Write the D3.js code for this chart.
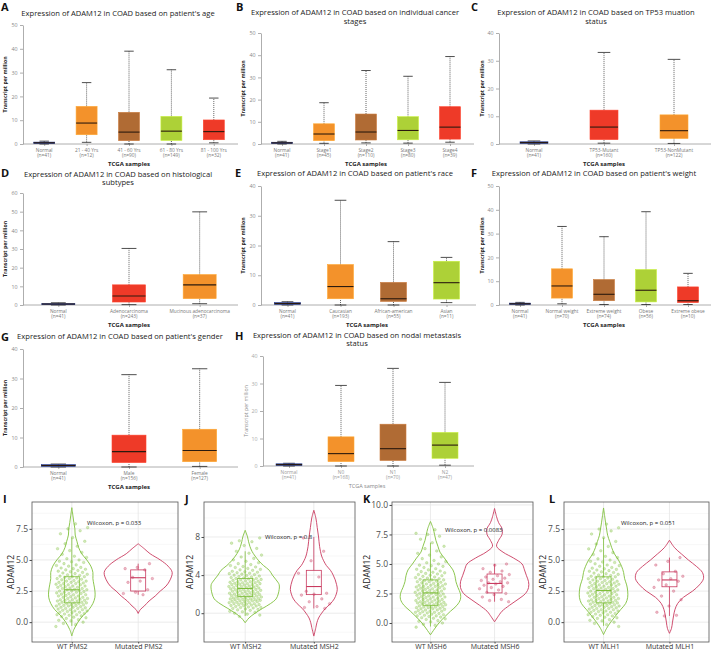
<!DOCTYPE html>
<html><head><meta charset="utf-8">
<script src="https://cdn.jsdelivr.net/npm/d3@7"></script>
<style>body{margin:0;background:#fff}svg{display:block}text{font-family:"Open Sans","DejaVu Sans",sans-serif}</style>
</head><body><script>
// ---------------- DATA ----------------
// box stats: [min, q1, median, q3, max]
const ageCats = ["Normal","21 - 40 Yrs","41 - 60 Yrs","61 - 80 Yrs","81 - 100 Yrs"];
const ageN = [41,12,90,149,32];
const ageStats = [[0,0.2,0.5,0.8,1.2],[0.7,3.9,8.8,15.8,25.8],[0,1.4,5.0,13.3,39.0],[0,1.5,5.4,11.6,31.2],[0.5,1.8,5.2,10.1,19.3]];
const stageCats = ["Normal","Stage1","Stage2","Stage3","Stage4"];
const stageN = [41,45,110,80,39];
const stageStats = [[0,0.2,0.5,0.8,1.2],[0.3,1.5,4.5,9.1,18.6],[0.5,1.8,5.4,13.5,33.1],[0.4,1.9,6.1,12.3,30.5],[0.8,2.2,7.6,16.8,39.4]];
const tp53Cats = ["Normal","TP53-Mutant","TP53-NonMutant"];
const tp53N = [41,160,122];
const tp53Stats = [[0,0.2,0.5,0.8,1.1],[0.3,1.6,6.1,12.2,33.0],[0.2,2.0,4.8,10.5,30.5]];
const histCats = ["Normal","Adenocarcinoma","Mucinous adenocarcinoma"];
const histN = [41,243,37];
const histStats = [[0,0.2,0.5,0.8,1.2],[0.2,1.6,4.8,10.8,30.3],[0.7,3.4,10.8,16.3,49.9]];
const raceCats = ["Normal","Caucasian","African-american","Asian"];
const raceN = [41,193,55,11];
const raceStats = [[0,0.2,0.5,0.8,1.1],[0,2.1,6.2,13.6,35.2],[0,1.2,2.1,7.6,21.3],[0.8,2.0,7.5,14.7,16.0]];
const weightCats = ["Normal","Normal weight","Extreme weight","Obese","Extreme obese"];
const weightN = [41,70,74,56,10];
const weightStats = [[0,0.2,0.5,0.8,1.1],[0.5,2.9,8.0,15.2,33.0],[0.2,1.8,4.5,10.7,28.7],[0.2,1.3,6.2,14.9,39.2],[0.2,1.0,1.8,7.6,13.3]];
const genderCats = ["Normal","Male","Female"];
const genderN = [41,156,127];
const genderStats = [[0,0.2,0.5,0.8,1.0],[0,1.5,5.2,10.8,31.3],[0.2,1.8,5.6,12.8,33.3]];
const nodalCats = ["Normal","N0","N1","N2"];
const nodalN = [41,168,70,47];
const nodalStats = [[0,0.2,0.5,0.8,1.0],[0,1.6,4.5,10.6,29.3],[0,2.0,6.3,15.2,35.5],[0.3,2.8,7.6,12.2,30.4]];

// violin panels
const wtValues = [-0.35,-0.2,-0.1,0.0,0.1,0.15,0.2,0.3,0.35,0.4,0.45,0.5,0.55,0.6,0.6,0.65,0.7,0.75,0.8,0.8,0.85,0.9,0.9,0.95,
1.0,1.0,1.05,1.1,1.1,1.15,1.2,1.2,1.25,1.3,1.3,1.35,1.35,1.4,1.4,1.45,1.5,1.5,1.55,1.55,
1.6,1.6,1.65,1.7,1.7,1.75,1.75,1.8,1.8,1.85,1.9,1.9,1.95,2.0,2.0,2.05,2.1,2.1,2.15,2.2,2.2,2.25,2.3,2.3,2.35,2.4,2.4,2.45,2.5,2.5,2.55,2.6,2.6,
2.65,2.7,2.7,2.75,2.8,2.8,2.85,2.9,2.9,2.95,3.0,3.0,3.05,3.1,3.1,3.15,3.2,3.2,3.25,3.3,3.3,3.35,3.4,3.45,3.5,3.5,3.55,3.6,3.65,3.65,
3.7,3.75,3.8,3.85,3.9,3.95,4.0,4.05,4.1,4.15,4.2,4.25,4.3,4.35,4.4,4.5,4.55,4.6,4.7,4.8,4.85,4.9,5.0,5.1,5.2,5.3,5.45,5.6,5.75,5.9,6.1,6.3,6.5,6.8,7.1,7.35,7.5,7.6,7.9];
const mutPMS2 = [4.7,4.4,4.3,4.2,3.6,3.5,3.3,3.2,2.6,2.4,2.3,2.2];
const mutMSH2 = [7.9,6.5,5.5,4.2,3.8,2.3,2.1,2.0,1.9,1.5,1.2,1.0,0.7,0.6,0.5];
const mutMSH6 = [5.0,4.9,4.6,4.4,4.3,4.1,4.0,3.9,3.8,3.7,3.6,3.5,3.4,3.4,3.3,3.2,3.1,3.0,2.9,2.8,2.6,2.5,2.4,2.2,2.0,1.9,1.8];
const mutMLH1 = [5.2,4.9,4.6,4.1,3.9,3.7,3.5,3.4,3.3,3.0,2.8,2.5,2.1,1.8,1.3,0.8,0.55,0.5];
// violin densities [value, relative density]
const densPMS2wt = [[-1.1,0],[-0.6,.06],[0,.18],[0.5,.32],[1,.5],[1.5,.62],[2,.68],[2.5,.68],[3,.65],[3.5,.62],[4,.62],[4.5,.56],[5,.44],[5.5,.29],[6,.2],[6.5,.15],[7,.1],[7.5,.09],[8,.06],[8.6,.03],[9.2,0]];
const densPMS2mut = [[0.7,0],[1.0,.06],[1.3,.18],[1.7,.32],[2.1,.5],[2.5,.65],[2.9,.82],[3.4,.94],[4.0,1],[4.5,.88],[5.0,.65],[5.5,.35],[5.9,.18],[6.3,0]];
const densMSH2wt = [[-1.0,0],[-0.5,.11],[0,.29],[0.5,.51],[1,.74],[1.5,.91],[2,.97],[2.5,1],[3,1],[3.5,.91],[4,.8],[4.5,.71],[5,.54],[5.5,.4],[6,.29],[6.5,.2],[7,.14],[7.5,.1],[8,.07],[8.7,0]];
const densMSH2mut = [[-2.4,0],[-1.5,.06],[-1,.09],[-0.5,.14],[0,.23],[0.5,.34],[1,.49],[1.5,.6],[2,.66],[2.5,.69],[3,.67],[3.5,.63],[4,.57],[4.5,.49],[5,.37],[5.5,.29],[6,.23],[7,.17],[8,.14],[9,.1],[10,.06],[10.8,0]];
const densMSH6wt = [[-1.0,0],[-0.5,.12],[0,.25],[0.5,.41],[1,.59],[1.5,.78],[2,.88],[2.5,.88],[3,.81],[3.5,.75],[4,.72],[4.5,.66],[5,.53],[5.5,.41],[6,.28],[6.5,.22],[7,.16],[7.5,.12],[8,.08],[8.6,0]];
const densMSH6mut = [[0.1,0],[0.7,.14],[1,.22],[1.5,.44],[2,.69],[2.5,.91],[3,1],[3.5,1],[4,.94],[4.5,.88],[5,.81],[5.5,.56],[6,.25],[6.5,.06],[7,.12],[7.5,.22],[8,.22],[8.5,.12],[9,.06],[9.7,0]];
const densMLH1wt = [[-1.0,0],[-0.5,.09],[0,.21],[0.5,.35],[1,.5],[1.5,.65],[2,.71],[2.5,.71],[3,.68],[3.5,.62],[4,.59],[4.5,.53],[5,.44],[5.5,.32],[6,.24],[6.5,.18],[7,.12],[7.5,.09],[8,.06],[8.6,.03],[9.2,0]];
const densMLH1mut = [[-0.9,0],[-0.5,.06],[0,.09],[0.5,.12],[1,.16],[1.5,.24],[2,.41],[2.5,.68],[3,.88],[3.5,1],[4,.97],[4.5,.79],[5,.56],[5.5,.35],[6,.15],[6.6,0]];
// violin box stats [lo, q1, med, q3, hi]
const boxPMS2 = [[-0.3,1.55,2.6,3.65,6.8],[2.2,2.5,3.57,4.2,4.7]];
const boxMSH2 = [[-0.3,1.75,2.6,3.65,6.5],[0.5,1.95,2.8,4.5,8.0]];
const boxMSH6 = [[-0.3,1.5,2.55,3.65,6.8],[1.8,2.55,3.35,4.15,5.0]];
const boxMLH1 = [[-0.3,1.55,2.55,3.65,6.8],[0.5,2.85,3.4,4.05,5.2]];
const pvals = ["0.033","0.8","0.0083","0.051"];
const genes = ["PMS2","MSH2","MSH6","MLH1"];

// ---------------- STYLE ----------------
const C = {N:'#22347c', O:'#f3922b', B:'#b06b34', G:'#add137', R:'#ee3a28'};
const W = 711, H = 651;
const svg = d3.select('body').append('svg').attr('width',W).attr('height',H);

function boxPanel(p){
  const g = svg.append('g');
  const light = !!p.light;
  const y = d3.scaleLinear().domain([0,p.yMax]).range([p.yBot,p.yTop]);
  const x = d3.scalePoint().domain(p.cats).range([p.x0,p.x1]).padding(0.5);
  svg.append('text').attr('x',p.lx).attr('y',p.ly).text(p.letter)
     .attr('font-family','"Liberation Sans",Arial,sans-serif').attr('font-weight','bold').attr('font-size',11).attr('fill','#111');
  p.title.forEach((t,i)=>g.append('text').attr('x',p.tx).attr('y',p.ty+i*8.5).attr('text-anchor','middle')
     .attr('font-size',7.6).attr('fill','#222').text(t));
  const ax = g.append('g').attr('transform',`translate(${p.x0},0)`)
     .call(d3.axisLeft(y).tickValues(p.ticks).tickSize(3).tickPadding(2.5).tickSizeOuter(0));
  ax.select('.domain').attr('stroke','#999').attr('stroke-width',0.8);
  ax.selectAll('.tick line').attr('stroke','#999').attr('stroke-width',0.8);
  ax.selectAll('.tick text').attr('font-size',5.3).attr('fill',light?'#aaa':'#888').attr('font-family','"Open Sans",sans-serif');
  const xa = g.append('g').attr('transform',`translate(0,${p.yBot})`)
     .call(d3.axisBottom(x).tickSize(2).tickFormat(''));
  xa.select('.domain').attr('stroke','#999').attr('stroke-width',0.8).attr('d',`M${p.x0},0H${p.x1+3}`);
  xa.selectAll('.tick line').attr('stroke','#999').attr('stroke-width',0.8);
  g.append('text').attr('transform',`translate(${p.ylx},${(p.yTop+p.yBot)/2}) rotate(-90)`).attr('text-anchor','middle')
     .attr('font-size',5.2).attr('font-weight',light?'normal':'bold').attr('fill',light?'#888':'#222').text('Transcript per million');
  p.cats.forEach((c,i)=>{
    g.append('text').attr('x',x(c)).attr('y',p.yBot+7.5).attr('text-anchor','middle').attr('font-size',4.8).attr('fill',light?'#999':'#777').text(c);
    g.append('text').attr('x',x(c)).attr('y',p.yBot+12.5).attr('text-anchor','middle').attr('font-size',4.8).attr('fill',light?'#999':'#777').text(`(n=${p.ns[i]})`);
  });
  g.append('text').attr('x',(p.x0+p.x1)/2).attr('y',p.yBot+22).attr('text-anchor','middle')
     .attr('font-size',light?5.5:6).attr('font-weight',light?'normal':'bold').attr('fill',light?'#888':'#222').text('TCGA samples');
  p.cats.forEach((c,i)=>{
    const s = p.stats[i], cx = x(c), bw = p.bw, cw = bw*0.45;
    g.append('line').attr('x1',cx).attr('x2',cx).attr('y1',y(s[3])).attr('y2',y(s[4])).attr('stroke','#222').attr('stroke-width',0.7).attr('stroke-dasharray','1,1');
    g.append('line').attr('x1',cx).attr('x2',cx).attr('y1',y(s[0])).attr('y2',y(s[1])).attr('stroke','#222').attr('stroke-width',0.7).attr('stroke-dasharray','1,1');
    g.append('line').attr('x1',cx-cw/2).attr('x2',cx+cw/2).attr('y1',y(s[4])).attr('y2',y(s[4])).attr('stroke','#222').attr('stroke-width',0.8);
    g.append('line').attr('x1',cx-cw/2).attr('x2',cx+cw/2).attr('y1',y(s[0])).attr('y2',y(s[0])).attr('stroke','#222').attr('stroke-width',0.8);
    const col = p.colors[i];
    g.append('rect').attr('x',cx-bw/2).attr('width',bw).attr('y',y(s[3])).attr('height',Math.max(1.2,y(s[1])-y(s[3])))
      .attr('fill',col).attr('stroke',d3.color(col).brighter(0.4)).attr('stroke-width',0.6);
    g.append('line').attr('x1',cx-bw/2).attr('x2',cx+bw/2).attr('y1',y(s[2])).attr('y2',y(s[2])).attr('stroke','#2b1a0e').attr('stroke-width',1.1);
  });
}

const boxPanels = [
 {letter:'A',lx:1,ly:11,title:["Expression of ADAM12 in COAD based on patient's age"],tx:118,ty:15.5,cats:ageCats,ns:ageN,stats:ageStats,colors:[C.N,C.O,C.B,C.G,C.R],x0:23,x1:235,yTop:25,yBot:144,yMax:50,ticks:[0,10,20,30,40,50],bw:21,ylx:7},
 {letter:'B',lx:236,ly:11,title:["Expression of ADAM12 in COAD based on individual cancer","stages"],tx:355,ty:15,cats:stageCats,ns:stageN,stats:stageStats,colors:[C.N,C.O,C.B,C.G,C.R],x0:261,x1:471,yTop:33,yBot:144,yMax:50,ticks:[0,10,20,30,40,50],bw:21,ylx:245},
 {letter:'C',lx:471,ly:11,title:["Expression of ADAM12 in COAD based on TP53 muation","status"],tx:596,ty:15,cats:tp53Cats,ns:tp53N,stats:tp53Stats,colors:[C.N,C.R,C.O],x0:499,x1:709,yTop:33,yBot:144,yMax:40,ticks:[0,10,20,30,40],bw:28,ylx:484},
 {letter:'D',lx:1,ly:177,title:["Expression of ADAM12 in COAD based on histological","subtypes"],tx:118,ty:176.5,cats:histCats,ns:histN,stats:histStats,colors:[C.N,C.R,C.O],x0:23,x1:235,yTop:193,yBot:305,yMax:60,ticks:[0,10,20,30,40,50,60],bw:33,ylx:7},
 {letter:'E',lx:235,ly:177,title:["Expression of ADAM12 in COAD based on patient's race"],tx:355,ty:176,cats:raceCats,ns:raceN,stats:raceStats,colors:[C.N,C.O,C.B,C.G],x0:261,x1:473,yTop:186,yBot:305,yMax:40,ticks:[0,10,20,30,40],bw:26,ylx:245},
 {letter:'F',lx:471,ly:177,title:["Expression of ADAM12 in COAD based on patient's weight"],tx:594,ty:176,cats:weightCats,ns:weightN,stats:weightStats,colors:[C.N,C.O,C.B,C.G,C.R],x0:499,x1:709,yTop:186,yBot:305,yMax:50,ticks:[0,10,20,30,40,50],bw:21,ylx:484},
 {letter:'G',lx:1,ly:341,title:["Expression of ADAM12 in COAD based on patient's gender"],tx:120,ty:338.5,cats:genderCats,ns:genderN,stats:genderStats,colors:[C.N,C.R,C.O],x0:23,x1:235,yTop:349,yBot:467,yMax:40,ticks:[0,10,20,30,40],bw:34,ylx:7},
 {letter:'H',lx:235,ly:340,title:["Expression of ADAM12 in COAD based on nodal metastasis","status"],tx:357,ty:337.5,cats:nodalCats,ns:nodalN,stats:nodalStats,colors:[C.N,C.O,C.B,C.G],x0:263,x1:471,yTop:356,yBot:466,yMax:40,ticks:[0,10,20,30,40],bw:26,ylx:248,light:true}
];
boxPanels.forEach(boxPanel);

// ---------------- VIOLINS ----------------
const WT_COL = '#7fbf3b', MUT_COL = '#c93a5f';
function violinPanel(p){
  const g = svg.append('g');
  const y = d3.scaleLinear().domain([p.lo,p.hi]).range([p.y1,p.y0]);
  const cats = ['WT '+p.gene,'Mutated '+p.gene];
  const x = d3.scalePoint().domain(cats).range([p.x0,p.x1]).padding(0.6);
  const step = x.step();
  p.minor.forEach(v=>g.append('line').attr('x1',p.x0).attr('x2',p.x1).attr('y1',y(v)).attr('y2',y(v)).attr('stroke','#f3f3f3').attr('stroke-width',0.6));
  p.major.forEach(v=>g.append('line').attr('x1',p.x0).attr('x2',p.x1).attr('y1',y(v)).attr('y2',y(v)).attr('stroke','#e6e6e6').attr('stroke-width',0.8));
  cats.forEach(c=>g.append('line').attr('x1',x(c)).attr('x2',x(c)).attr('y1',p.y0).attr('y2',p.y1).attr('stroke','#e6e6e6').attr('stroke-width',0.8));
  const ya = g.append('g').attr('transform',`translate(${p.x0},0)`).call(d3.axisLeft(y).tickValues(p.major).tickSize(2.5).tickPadding(1.5).tickFormat(p.fmt));
  ya.select('.domain').remove();
  ya.selectAll('.tick line').attr('stroke','#444');
  ya.selectAll('.tick text').attr('font-size',8.5).attr('fill','#4d4d4d').attr('font-family','"Open Sans",sans-serif');
  const xa = g.append('g').attr('transform',`translate(0,${p.y1})`).call(d3.axisBottom(x).tickSize(1.5));
  xa.select('.domain').remove();
  xa.selectAll('.tick line').attr('stroke','#444');
  xa.selectAll('.tick text').attr('font-size',7).attr('fill','#333').attr('font-family','"Open Sans",sans-serif').attr('y',7).attr('dy',0);
  g.append('text').attr('transform',`translate(${p.ylx},${(p.y0+p.y1)/2}) rotate(-90)`).attr('text-anchor','middle')
    .attr('font-size',8.5).attr('fill','#222').text('ADAM12');
  svg.append('text').attr('x',p.lx).attr('y',503).text(p.letter)
     .attr('font-family','"Liberation Sans",Arial,sans-serif').attr('font-weight','bold').attr('font-size',11).attr('fill','#111');
  const k = 34;
  const groups = [{c:cats[0],dens:p.wtDens,pts:wtValues,box:p.box[0],col:WT_COL,seed:p.seed},{c:cats[1],dens:p.mutDens,pts:p.mutPts,box:p.box[1],col:MUT_COL,seed:p.seed+3}];
  groups.forEach(gr=>{
    const cx = x(gr.c);
    const area = d3.area().y(d=>y(d[0])).x0(d=>cx-d[1]*k).x1(d=>cx+d[1]*k).curve(d3.curveCatmullRom.alpha(0.5));
    g.append('path').attr('d',area(gr.dens)).attr('fill','none').attr('stroke',gr.col).attr('stroke-width',0.9);
    const b = gr.box, bw = 15;
    g.append('line').attr('x1',cx).attr('x2',cx).attr('y1',y(b[0])).attr('y2',y(b[1])).attr('stroke',gr.col).attr('stroke-width',0.8);
    g.append('line').attr('x1',cx).attr('x2',cx).attr('y1',y(b[3])).attr('y2',y(b[4])).attr('stroke',gr.col).attr('stroke-width',0.8);
    g.append('rect').attr('x',cx-bw/2).attr('width',bw).attr('y',y(b[3])).attr('height',y(b[1])-y(b[3])).attr('fill','none').attr('stroke',gr.col).attr('stroke-width',0.8);
    g.append('line').attr('x1',cx-bw/2).attr('x2',cx+bw/2).attr('y1',y(b[2])).attr('y2',y(b[2])).attr('stroke',gr.col).attr('stroke-width',1.1);
    const jw = step*0.24;
    gr.pts.forEach((v,i)=>{
      const f = ((i+gr.seed)*0.6180339887)%1;
      g.append('circle').attr('cx',cx+(f-0.5)*2*jw).attr('cy',y(v)).attr('r',1.3)
        .attr('fill',gr.col).attr('fill-opacity',0.35).attr('stroke',gr.col).attr('stroke-opacity',0.6).attr('stroke-width',0.4);
    });
  });
  g.append('text').attr('x',p.px).attr('y',p.py).attr('font-size',6).attr('fill','#222').text('Wilcoxon, p = '+p.pval);
  g.append('rect').attr('x',p.x0).attr('y',p.y0).attr('width',p.x1-p.x0).attr('height',p.y1-p.y0).attr('fill','none').attr('stroke','#555').attr('stroke-width',0.8);
}
const f1 = d3.format('.1f'), f0 = d3.format('d');
const violinPanels = [
 {letter:'I',lx:3,gene:genes[0],x0:32,x1:178,y0:502,y1:642,lo:-1.596,hi:9.657,major:[0,2.5,5,7.5],minor:[-1.25,1.25,3.75,6.25,8.75],fmt:f1,ylx:14,wtDens:densPMS2wt,mutDens:densPMS2mut,mutPts:mutPMS2,box:boxPMS2,pval:pvals[0],px:87,py:525,seed:0},
 {letter:'J',lx:185,gene:genes[1],x0:204,x1:355,y0:502,y1:642,lo:-3.02,hi:11.67,major:[0,4,8],minor:[-2,2,6,10],fmt:f0,ylx:193,wtDens:densMSH2wt,mutDens:densMSH2mut,mutPts:mutMSH2,box:boxMSH2,pval:pvals[1],px:265,py:539,seed:7},
 {letter:'K',lx:363,gene:genes[2],x0:392,x1:533,y0:502,y1:642,lo:-1.61,hi:10.25,major:[0,2.5,5,7.5,10],minor:[-1.25,1.25,3.75,6.25,8.75],fmt:f1,ylx:370,wtDens:densMSH6wt,mutDens:densMSH6mut,mutPts:mutMSH6,box:boxMSH6,pval:pvals[2],px:445,py:532,seed:13},
 {letter:'L',lx:549,gene:genes[3],x0:564,x1:709,y0:502,y1:642,lo:-1.6,hi:9.68,major:[0,2.5,5,7.5],minor:[-1.25,1.25,3.75,6.25,8.75],fmt:f1,ylx:546,wtDens:densMLH1wt,mutDens:densMLH1mut,mutPts:mutMLH1,box:boxMLH1,pval:pvals[3],px:621,py:525,seed:21}
];
violinPanels.forEach(violinPanel);
</script></body></html>
